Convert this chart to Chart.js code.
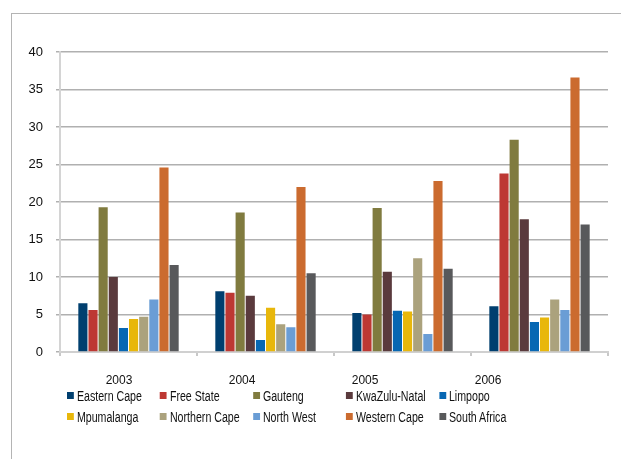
<!DOCTYPE html>
<html>
<head>
<meta charset="utf-8">
<script src="https://cdn.jsdelivr.net/npm/chart.js@4"></script>
<style>
  html, body { margin: 0; padding: 0; background: #fff; overflow: hidden; }
  #wrap { position: relative; width: 621px; height: 459px; }
  #frame { position: absolute; left: 11px; top: 13px; width: 700px; height: 600px; border: 1px solid #b4b4b4; }
  canvas { position: absolute; left: 0; top: 0; }
  /* the original text is condensed, so squeeze the legend a bit */
  #legend { position: absolute; left: 67px; top: 388px; display: grid; grid-template-columns: repeat(5, 122.4px); row-gap: 6px;
    transform: scaleX(0.76); transform-origin: 0 0;
    font-family: 'Liberation Sans', Arial, sans-serif; font-size: 14px; color: #111; }
  .item { display: flex; align-items: center; height: 15px; white-space: nowrap; }
  .box { width: 9px; height: 7px; margin-right: 4px; flex: none; }
</style>
</head>
<body>
<div id="wrap">
  <div id="frame"></div>
  <canvas id="chart" width="621" height="459"></canvas>
  <div id="legend"></div>
</div>
<script>
const years = ['2003', '2004', '2005', '2006'];
const yTicks = [0, 5, 10, 15, 20, 25, 30, 35, 40];

const easternCape  = [6.5, 8.1, 5.2, 6.1];
const freeState    = [5.6, 7.9, 5.0, 23.8];
const gauteng      = [19.3, 18.6, 19.2, 28.3];
const kwaZuluNatal = [10.0, 7.5, 10.7, 17.7];
const limpopo      = [3.2, 1.6, 5.5, 4.0];
const mpumalanga   = [4.4, 5.9, 5.4, 4.6];
const northernCape = [4.7, 3.7, 12.5, 7.0];
const northWest    = [7.0, 3.3, 2.4, 5.6];
const westernCape  = [24.6, 22.0, 22.8, 36.6];
const southAfrica  = [11.6, 10.5, 11.1, 17.0];

const series = [
  { name: 'Eastern Cape',  data: easternCape,  color: '#003f6f' },
  { name: 'Free State',    data: freeState,    color: '#bd3833' },
  { name: 'Gauteng',       data: gauteng,      color: '#807b3f' },
  { name: 'KwaZulu-Natal', data: kwaZuluNatal, color: '#5a3a3d' },
  { name: 'Limpopo',       data: limpopo,      color: '#0767b3' },
  { name: 'Mpumalanga',    data: mpumalanga,   color: '#e8b70b' },
  { name: 'Northern Cape', data: northernCape, color: '#aba27d' },
  { name: 'North West',    data: northWest,    color: '#6a9dd5' },
  { name: 'Western Cape',  data: westernCape,  color: '#cb6b2f' },
  { name: 'South Africa',  data: southAfrica,  color: '#58595b' }
];

const FONT = "'Liberation Sans', Arial, sans-serif";

// legend as a fixed 5-column grid, like the original
const legend = document.getElementById('legend');
legend.innerHTML = series.map(s =>
  `<div class="item"><span class="box" style="background:${s.color}"></span>${s.name}</div>`
).join('');

new Chart(document.getElementById('chart'), {
  type: 'bar',
  data: {
    labels: years,
    datasets: series.map(s => ({
      label: s.name,
      data: s.data,
      backgroundColor: s.color,
      borderWidth: 0,
      categoryPercentage: 0.74,
      barPercentage: 0.9,
      xAxisID: 'x'
    }))
  },
  options: {
    responsive: false,
    animation: false,
    layout: { padding: { left: 0, right: 13, top: 52, bottom: 63 } },
    plugins: { legend: { display: false }, tooltip: { enabled: false } },
    scales: {
      x: {
        type: 'category',
        position: 'bottom',
        grid: { drawOnChartArea: false, drawTicks: true, tickLength: 4, color: '#c8c8c8', lineWidth: 2 },
        border: { color: '#d0d0d0', width: 2 },
        ticks: { display: false },
        afterFit: s => { s.height = 4; }
      },
      // year labels sit on their own scale (Excel put them off-centre)
      xLabels: {
        type: 'linear',
        position: 'bottom',
        offset: false,
        bounds: 'data',
        grace: 0,
        min: -0.48,
        max: 3.975,
        afterBuildTicks: s => { s.ticks = years.map((_, i) => ({ value: i })); },
        grid: { display: false, drawTicks: false },
        border: { display: false },
        ticks: {
          autoSkip: false,
          padding: 17,
          color: '#111',
          font: { family: FONT, size: 12 },
          callback: v => years[Math.round(v)] || ''
        },
        afterFit: s => { s.height = 40; }
      },
      y: {
        min: 0,
        max: 40,
        afterBuildTicks: s => { s.ticks = yTicks.map(v => ({ value: v })); },
        grid: { color: '#b0b0b0', lineWidth: 1.5, tickLength: 4 },
        border: { color: '#d4d4d4', width: 2 },
        ticks: { padding: 13, color: '#111', font: { family: FONT, size: 13 } },
        afterFit: s => { s.width = 60; }
      }
    }
  }
});
</script>
</body>
</html>
